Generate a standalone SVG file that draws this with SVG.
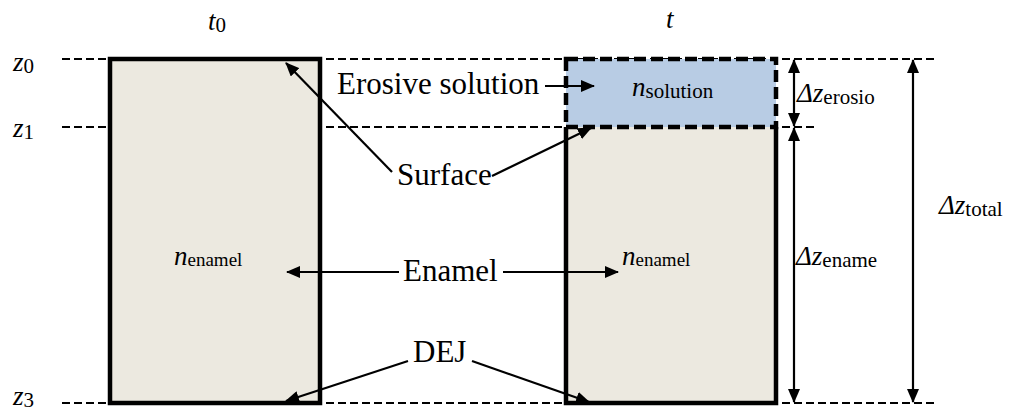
<svg xmlns="http://www.w3.org/2000/svg" width="1017" height="412" viewBox="0 0 1017 412" font-family="'Liberation Serif', 'Times New Roman', Times, 'DejaVu Serif', serif">
  <style>
    text { font-family: "Liberation Serif", "Times New Roman", Times, "DejaVu Serif", serif; fill: #000; }
    .lbl { font-size: 31px; }
    .var { font-size: 27px; font-style: italic; }
    .sub { font-size: 21px; font-style: normal; }
    .subs { font-size: 19px; font-style: normal; }
    .guide { stroke: #000; stroke-width: 2; stroke-dasharray: 8 4; fill: none; }
    .wall { stroke: #000; stroke-width: 4.5; fill: none; }
    .enamel { fill: #ECE9E0; }
    .conn { stroke: #000; stroke-width: 2.2; fill: none; marker-end: url(#head); }
    .dim { stroke: #000; stroke-width: 2.2; fill: none; marker-start: url(#head); marker-end: url(#head); }
  </style>
  <defs>
    <marker id="head" viewBox="0 0 14 12" refX="13" refY="6" markerWidth="14" markerHeight="12" markerUnits="userSpaceOnUse" orient="auto-start-reverse">
      <path d="M0,0 L14,6 L0,12 z" fill="#000"/>
    </marker>
  </defs>

  <rect width="1017" height="412" fill="#fff"/>

  <!-- depth reference lines -->
  <g id="levels">
    <line class="guide" x1="62" y1="59" x2="938" y2="59"/>
    <line class="guide" x1="62" y1="127" x2="817" y2="127"/>
    <line class="guide" x1="62" y1="403" x2="938" y2="403"/>
    <text class="var" x="13" y="71">z<tspan class="sub" dy="2">0</tspan></text>
    <text class="var" x="13" y="137">z<tspan class="sub" dy="2">1</tspan></text>
    <text class="var" x="13" y="405">z<tspan class="sub" dy="2">3</tspan></text>
  </g>

  <!-- time labels -->
  <g id="time-labels">
    <text class="var" x="208" y="30">t<tspan class="sub" dy="2">0</tspan></text>
    <text class="var" x="666" y="28">t</text>
  </g>

  <!-- enamel block at t0 -->
  <g id="block-t0">
    <rect class="enamel" x="110" y="59" width="210" height="344"/>
    <rect class="wall" x="110" y="59" width="210" height="344"/>
    <text class="var" x="174" y="265">n<tspan class="subs" dy="1">enamel</tspan></text>
  </g>

  <!-- enamel block at t -->
  <g id="block-t-enamel">
    <rect class="enamel" x="566" y="127" width="210" height="276"/>
    <path class="wall" d="M566,127 V403 H776 V127"/>
    <text class="var" x="622" y="265">n<tspan class="subs" dy="1">enamel</tspan></text>
  </g>

  <!-- eroded layer filled with solution -->
  <g id="block-t-solution">
    <rect x="566" y="59" width="210" height="68" fill="#B8CCE4" stroke="#000" stroke-width="4.5" stroke-dasharray="12 5"/>
    <text class="var" x="632" y="96">n<tspan class="sub" dy="2">solution</tspan></text>
  </g>

  <!-- callout labels -->
  <g id="label-erosive">
    <text class="lbl" x="337" y="94">Erosive solution</text>
  </g>
  <g id="label-surface">
    <text class="lbl" x="397" y="185">Surface</text>
  </g>
  <g id="label-enamel">
    <text class="lbl" x="403" y="281">Enamel</text>
  </g>
  <g id="label-dej">
    <text class="lbl" x="413" y="362">DEJ</text>
  </g>

  <!-- thickness labels -->
  <g id="dim-labels">
    <text class="var" x="797" y="102">Δz<tspan class="sub" dy="2">erosio</tspan></text>
    <text class="var" x="796" y="265">Δz<tspan class="sub" dy="2">ename</tspan></text>
    <text class="var" x="939" y="214">Δz<tspan class="sub" dy="2">total</tspan></text>
  </g>

  <!-- connectors -->
  <g id="connectors">
    <line class="conn" x1="545" y1="86" x2="594" y2="86"/>
    <line class="conn" x1="392" y1="172" x2="286" y2="63"/>
    <line class="conn" x1="492" y1="176" x2="591" y2="128"/>
    <line class="conn" x1="399" y1="272" x2="287" y2="272"/>
    <line class="conn" x1="503" y1="272" x2="618" y2="272"/>
    <line class="conn" x1="408" y1="361" x2="286" y2="401"/>
    <line class="conn" x1="472" y1="361" x2="589" y2="402"/>
    <line class="dim" x1="794" y1="60" x2="794" y2="126"/>
    <line class="dim" x1="794" y1="128" x2="794" y2="402"/>
    <line class="dim" x1="913" y1="60" x2="913" y2="402"/>
  </g>
</svg>
